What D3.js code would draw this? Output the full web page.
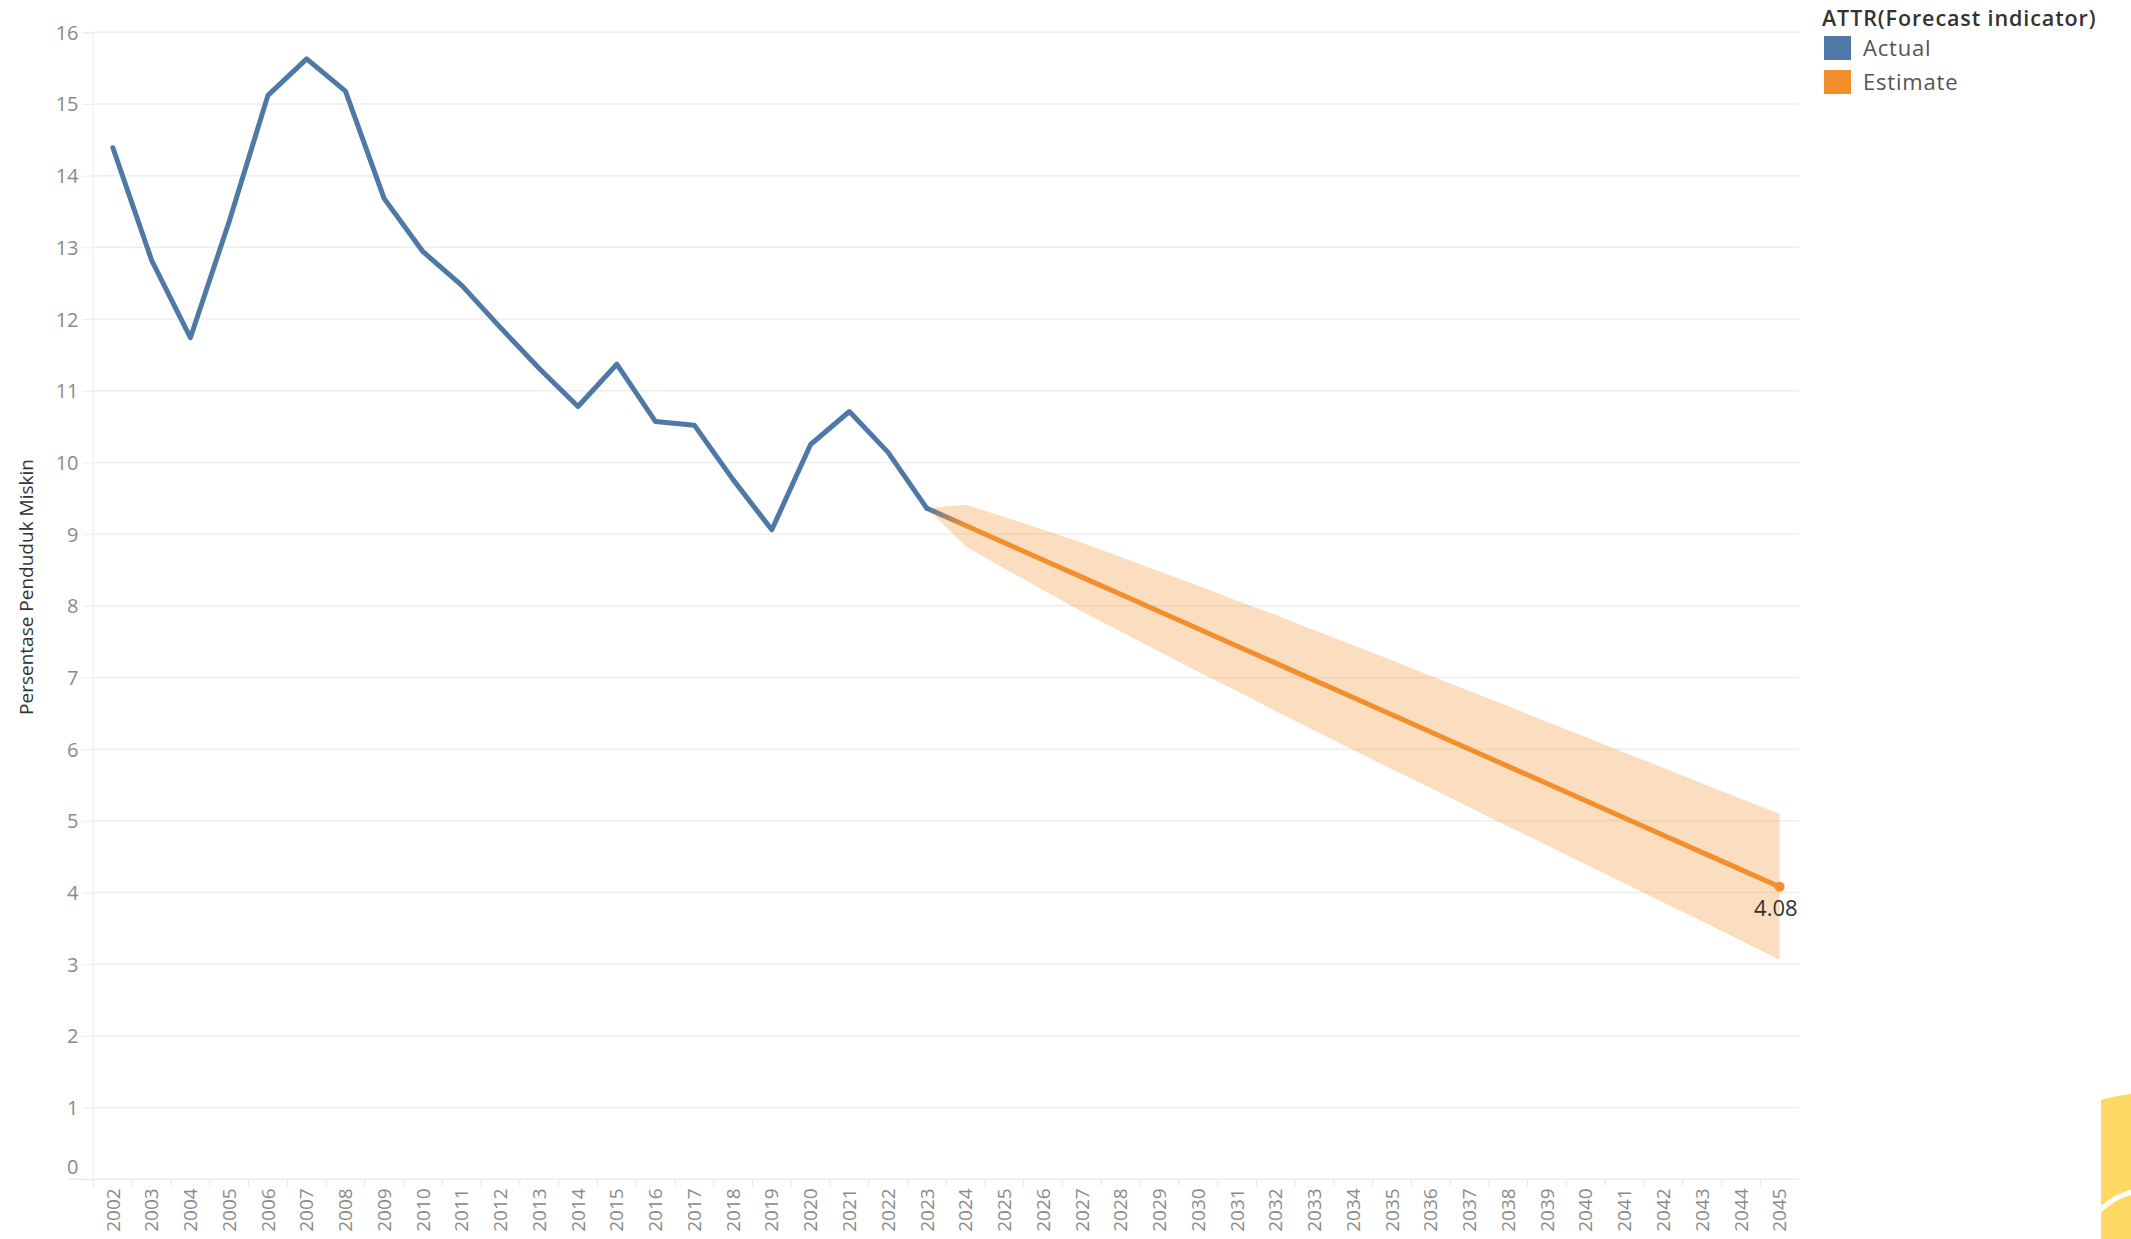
<!DOCTYPE html>
<html>
<head>
<meta charset="utf-8">
<script src="https://cdn.jsdelivr.net/npm/d3@7"></script>
<style>
  body { margin: 0; background: #fff; }
  svg text { font-family: "Open Sans", Lato, sans-serif; }
</style>
</head>
<body>
<div id="chart"></div>
<script>
// years on the x axis
var years = d3.range(2002, 2046);

// actual values 2002-2023
var actualYears = d3.range(2002, 2024);
var actualValues = [14.39, 12.82, 11.74, 13.36, 15.12, 15.63, 15.18, 13.68, 12.94, 12.47,
                    11.88, 11.31, 10.78, 11.37, 10.57, 10.52, 9.76, 9.06, 10.25, 10.71,
                    10.14, 9.36];

// forecast 2023 (last actual) - 2045
var estimateYears = d3.range(2023, 2046);
var estimateValues = [9.36, 9.12, 8.88, 8.64, 8.40, 8.16, 7.92, 7.68, 7.44, 7.20, 6.96, 6.72,
                      6.48, 6.24, 6.00, 5.76, 5.52, 5.28, 5.04, 4.80, 4.56, 4.32, 4.08];
var upperValues = [9.36, 9.41, 9.24, 9.06, 8.88, 8.68, 8.48, 8.28, 8.07, 7.87, 7.66, 7.45,
                   7.24, 7.02, 6.81, 6.60, 6.38, 6.17, 5.95, 5.74, 5.52, 5.31, 5.10];
var lowerValues = [9.36, 8.83, 8.52, 8.22, 7.92, 7.64, 7.36, 7.08, 6.81, 6.53, 6.26, 5.99,
                   5.72, 5.46, 5.19, 4.92, 4.66, 4.39, 4.13, 3.86, 3.60, 3.33, 3.06];

var yTicks = d3.range(0, 17);
var legendItems = ["Actual", "Estimate"];
var colors = { Actual: "#4e79a7", Estimate: "#f28e2b" };

var width = 2131, height = 1239;
var plotLeft = 92.5, plotRight = 1799, plotTop = 32.3, plotBottom = 1179.3;

var svg = d3.select("#chart").append("svg")
    .attr("width", width)
    .attr("height", height);

var x = d3.scaleBand().domain(years).range([plotLeft + 1, plotRight]).padding(0);
var cx = function (yr) { return x(yr) + x.bandwidth() / 2; };
var y = d3.scaleLinear().domain([0, 16]).range([plotBottom, plotTop]);

// gridlines
svg.append("g")
    .selectAll("line")
    .data(yTicks.filter(function (d) { return d > 0; }))
    .enter().append("line")
      .attr("x1", plotLeft).attr("x2", plotRight)
      .attr("y1", function (d) { return y(d); })
      .attr("y2", function (d) { return y(d); })
      .style("stroke", "#eeeeee")
      .style("stroke-width", 1.5);

// y axis
var yAxis = svg.append("g")
    .attr("transform", "translate(" + plotLeft + ",0)")
    .call(d3.axisLeft(y).tickValues(yTicks).tickSize(10).tickPadding(4).tickFormat(d3.format("d")));
yAxis.select(".domain").style("stroke", "#ececec");
yAxis.selectAll(".tick line").style("stroke", "#ececec");
yAxis.selectAll(".tick text")
    .style("fill", "#8a8a8a")
    .style("font-size", "20px")
    .style("font-family", "'Open Sans', sans-serif")
    .attr("dy", function (d) { return d === 0 ? "-0.3em" : "0.35em"; });

// x axis line + ticks between bands
svg.append("line")
    .attr("x1", plotLeft - 25).attr("x2", plotRight)
    .attr("y1", plotBottom).attr("y2", plotBottom)
    .style("stroke", "#ececec").style("stroke-width", 1.5);

svg.append("g")
    .selectAll("line")
    .data(years)
    .enter().append("line")
      .attr("x1", function (d) { return x(d); })
      .attr("x2", function (d) { return x(d); })
      .attr("y1", plotBottom + 1).attr("y2", plotBottom + 7)
      .style("stroke", "#e4e4e4");

svg.append("g")
    .selectAll("text")
    .data(years)
    .enter().append("text")
      .attr("transform", function (d) { return "translate(" + cx(d) + "," + (plotBottom + 9) + ") rotate(-90)"; })
      .attr("text-anchor", "end")
      .attr("dy", "0.35em")
      .style("font-size", "19px")
      .style("fill", "#8a8a8a")
      .text(function (d) { return d; });

// y axis title
svg.append("text")
    .attr("transform", "translate(26,587) rotate(-90)")
    .attr("text-anchor", "middle")
    .attr("dy", "0.35em")
    .style("font-size", "19px")
    .style("fill", "#333")
    .text("Persentase Penduduk Miskin");

// forecast band
var band = estimateYears.map(function (yr, i) {
    return { year: yr, hi: upperValues[i], lo: lowerValues[i] };
});
svg.append("path")
    .datum(band)
    .attr("d", d3.area()
        .x(function (d) { return cx(d.year); })
        .y0(function (d) { return y(d.lo); })
        .y1(function (d) { return y(d.hi); }))
    .style("fill", colors.Estimate)
    .style("fill-opacity", 0.3);

var line = d3.line()
    .x(function (d) { return cx(d.year); })
    .y(function (d) { return y(d.value); });

var actual = actualYears.map(function (yr, i) { return { year: yr, value: actualValues[i] }; });
var estimate = estimateYears.map(function (yr, i) { return { year: yr, value: estimateValues[i] }; });

// gradient for the join segment
var grad = svg.append("defs").append("linearGradient")
    .attr("id", "joinGrad")
    .attr("gradientUnits", "userSpaceOnUse")
    .attr("x1", cx(2023)).attr("x2", cx(2024))
    .attr("y1", y(estimateValues[0])).attr("y2", y(estimateValues[1]));
grad.append("stop").attr("offset", "0%").attr("stop-color", colors.Actual);
grad.append("stop").attr("offset", "100%").attr("stop-color", colors.Estimate);

svg.append("path")
    .datum(estimate.slice(1))
    .attr("d", line)
    .style("fill", "none")
    .style("stroke", colors.Estimate)
    .style("stroke-width", 5)
    .style("stroke-linejoin", "round");

svg.append("path")
    .datum(estimate.slice(0, 2))
    .attr("d", line)
    .style("fill", "none")
    .style("stroke", "url(#joinGrad)")
    .style("stroke-width", 5)
    .style("stroke-linecap", "round");

svg.append("path")
    .datum(actual)
    .attr("d", line)
    .style("fill", "none")
    .style("stroke", colors.Actual)
    .style("stroke-width", 5)
    .style("stroke-linejoin", "round")
    .style("stroke-linecap", "round");

// last point + label
var last = estimate[estimate.length - 1];
svg.append("circle")
    .attr("cx", cx(last.year))
    .attr("cy", y(last.value))
    .attr("r", 5)
    .style("fill", colors.Estimate);

svg.append("text")
    .attr("x", cx(last.year) + 18)
    .attr("y", y(last.value) + 29)
    .attr("text-anchor", "end")
    .style("font-size", "22px")
    .style("fill", "#333")
    .text(d3.format(".2f")(last.value));

// legend
var legend = svg.append("g").attr("transform", "translate(1822,0)");
legend.append("text")
    .attr("x", 0).attr("y", 26)
    .style("font-size", "21.5px")
    .style("font-weight", 600)
    .style("letter-spacing", "0.9px")
    .style("fill", "#333")
    .text("ATTR(Forecast indicator)");

var item = legend.selectAll(".item")
    .data(legendItems)
    .enter().append("g")
      .attr("transform", function (d, i) { return "translate(2," + (36 + i * 34) + ")"; });
item.append("rect")
    .attr("width", 27).attr("height", 24)
    .style("fill", function (d) { return colors[d]; });
item.append("text")
    .attr("x", 39).attr("y", 12)
    .attr("dy", "0.35em")
    .style("font-size", "22px")
    .style("letter-spacing", "0.8px")
    .style("fill", "#555")
    .text(function (d) { return d; });

// yellow badge clipped at the bottom-right corner
svg.append("clipPath").attr("id", "badgeClip")
  .append("rect").attr("x", 2101).attr("y", 1000).attr("width", 40).attr("height", 260);
var badge = svg.append("g").attr("clip-path", "url(#badgeClip)");
badge.append("circle")
    .attr("cx", 2170).attr("cy", 1366).attr("r", 275)
    .style("fill", "#fdd862");
badge.append("circle")
    .attr("cx", 2150).attr("cy", 1262).attr("r", 72)
    .style("fill", "none")
    .style("stroke", "#fff")
    .style("stroke-width", 5);
</script>
</body>
</html>
